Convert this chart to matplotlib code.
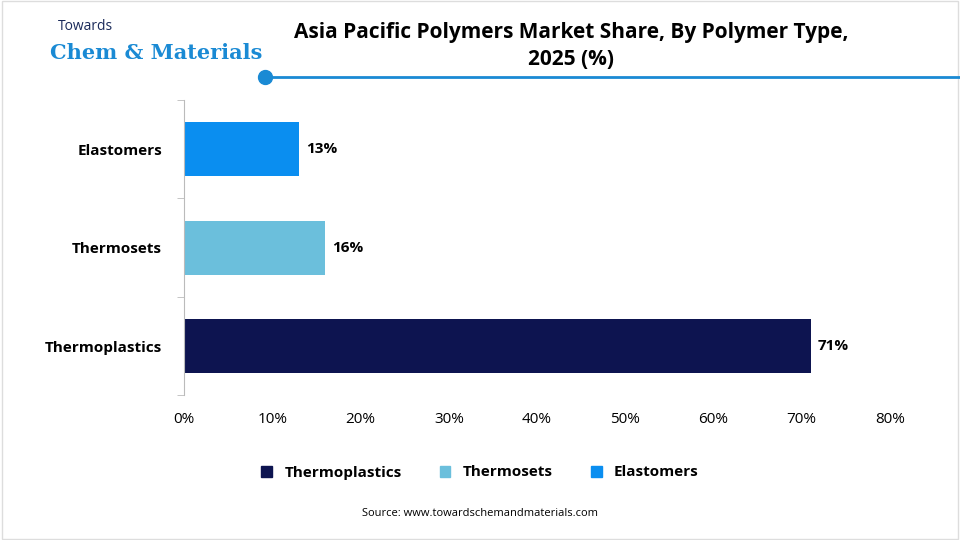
import matplotlib.pyplot as plt
from matplotlib.lines import Line2D
from matplotlib.patches import Patch

categories = ["Thermoplastics", "Thermosets", "Elastomers"]
shares = [71, 16, 13]
colors = ["#0d1450", "#6bbfdc", "#0a8ef0"]
xticks = [0, 10, 20, 30, 40, 50, 60, 70, 80]

plt.rcParams['font.family'] = ['Open Sans', 'DejaVu Sans']
fig = plt.figure(figsize=(9.6, 5.4), dpi=100)
ax = fig.add_axes([0.192, 0.268, 0.735, 0.547])

ax.barh(range(len(categories)), shares, height=0.55, color=colors)
for i, v in enumerate(shares):
    ax.text(v + 0.8, i, f"{v}%", va="center", ha="left", fontsize=11, fontweight="bold")

ax.set_xlim(0, 80)
ax.set_ylim(-0.5, 2.5)
ax.set_xticks(xticks)
ax.set_xticklabels([f"{t}%" for t in xticks], fontsize=11)
ax.set_yticks(range(len(categories)))
ax.set_yticklabels(categories, fontsize=11, fontweight="bold")
ax.set_yticks([-0.5, 0.5, 1.5, 2.5], minor=True)
ax.tick_params(axis="y", which="major", length=0, pad=16)
ax.tick_params(axis="y", which="minor", length=5, color="#bbbbbb")
ax.tick_params(axis="x", length=0, pad=12)
for s in ["top", "right", "bottom"]:
    ax.spines[s].set_visible(False)
ax.spines["left"].set_color("#bbbbbb")

handles = [Patch(color=c, label=l) for c, l in zip(colors, categories)]
fig.legend(handles=handles, loc="center", bbox_to_anchor=(0.5, 0.125), ncol=3,
           frameon=False, handlelength=0.7, handleheight=0.7,
           columnspacing=2.5, prop={'weight': 'bold', 'size': 11})

fig.text(0.595, 0.915, "Asia Pacific Polymers Market Share, By Polymer Type,\n2025 (%)",
         ha="center", va="center", fontsize=15, fontweight="bold", linespacing=1.4)
fig.add_artist(Line2D([0.276, 1.0], [0.858, 0.858], color="#1a8ad4", lw=2))
fig.add_artist(Line2D([0.276], [0.858], marker="o", markersize=10, color="#1a8ad4"))

fig.text(0.06, 0.945, "Towards", fontsize=10, color="#1a2a5a")
fig.text(0.052, 0.89, "Chem & Materials", fontsize=15, color="#1a8ad4",
         family="DejaVu Serif", fontweight="bold")

fig.text(0.5, 0.045, "Source: www.towardschemandmaterials.com", ha="center", fontsize=8)

fig.add_artist(plt.Rectangle((0.002, 0.002), 0.996, 0.996, fill=False,
                             edgecolor="#dddddd", lw=1, transform=fig.transFigure))
fig.savefig("out.png", dpi=100)
